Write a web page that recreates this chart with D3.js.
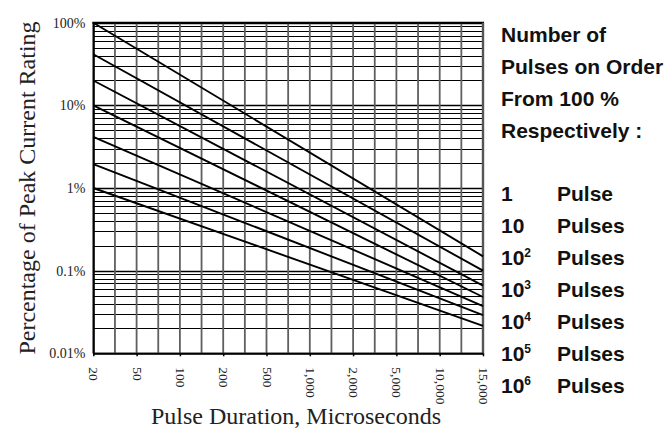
<!DOCTYPE html>
<html>
<head>
<meta charset="utf-8">
<script src="https://cdn.jsdelivr.net/npm/d3@7/dist/d3.min.js"></script>
<style>
  html, body { margin: 0; padding: 0; background: #fff; }
  svg { display: block; }
</style>
</head>
<body>
<svg id="chart" width="671" height="429"></svg>
<script>
// ---- data ----
const durations = ["20", "50", "100", "200", "500", "1,000", "2,000", "5,000", "10,000", "15,000"];
const yTickValues = [100, 10, 1, 0.1, 0.01];
const yTickLabels = ["100%", "10%", "1%", "0.1%", "0.01%"];
// percentage of peak current at 20 µs and at 15,000 µs, one per curve (top to bottom)
const startPercent = [100, 41.5, 20, 10, 4.15, 1.95, 1];
const endPercent = [0.149, 0.1, 0.066, 0.048, 0.0373, 0.0289, 0.0215];
const legendTitle = ["Number of", "Pulses on Order", "From 100 %", "Respectively :"];
const legendBase = ["1", "10", "10", "10", "10", "10", "10"];
const legendExp = ["", "", "2", "3", "4", "5", "6"];
const legendWord = ["Pulse", "Pulses", "Pulses", "Pulses", "Pulses", "Pulses", "Pulses"];

// ---- layout ----
const L = 93.3, R = 483, T = 22.7, B = 353.3;
const svg = d3.select("#chart");
const serif = "'Liberation Serif', 'Times New Roman', serif";
const sans = "'Liberation Sans', Arial, Helvetica, sans-serif";

const x = d3.scalePoint().domain(durations).range([L, R]);
const y = d3.scaleLog().domain([0.01, 100]).range([B, T]);

// horizontal grid: log minor lines
const hLines = [];
for (let e = -2; e < 2; e++) {
  for (let m = 1; m <= 9; m++) hLines.push(m * Math.pow(10, e));
}
hLines.push(100);

const grid = svg.append("g");
grid.selectAll("line.h").data(hLines).join("line")
  .attr("class", "h")
  .attr("x1", L).attr("x2", R)
  .attr("y1", d => Math.round(y(d)) + 0.5)
  .attr("y2", d => Math.round(y(d)) + 0.5)
  .attr("stroke", "#000")
  .attr("stroke-width", d => (Math.abs(Math.log10(d) - Math.round(Math.log10(d))) < 1e-9 ? 1.6 : 1));

// vertical grid: at each label and halfway between
const step = x.step();
const vPos = [];
durations.forEach((d, i) => {
  vPos.push(x(d));
  if (i < durations.length - 1) vPos.push(x(d) + step / 2);
});
grid.selectAll("line.v").data(vPos).join("line")
  .attr("class", "v")
  .attr("x1", d => d).attr("x2", d => d)
  .attr("y1", T).attr("y2", B)
  .attr("stroke", "#5f5f5f")
  .attr("stroke-width", 1.8);

// frame
svg.append("line").attr("x1", L - 1).attr("x2", R + 1).attr("y1", T).attr("y2", T)
  .attr("stroke", "#000").attr("stroke-width", 2);
svg.append("line").attr("x1", R).attr("x2", R).attr("y1", T).attr("y2", B)
  .attr("stroke", "#555").attr("stroke-width", 2.4);

// x axis
const xAxis = d3.axisBottom(x).tickSize(3).tickSizeOuter(0).tickFormat("");
const gx = svg.append("g").attr("transform", `translate(0,${B})`).call(xAxis);
gx.select(".domain").attr("stroke", "#000").attr("stroke-width", 2);
gx.selectAll(".tick line").attr("stroke", "#000").attr("stroke-width", 1.5);
gx.selectAll(".tick").append("text")
  .attr("transform", "translate(0,14) rotate(90)")
  .attr("x", 0).attr("y", 0)
  .attr("dy", "0.33em")
  .attr("text-anchor", "start")
  .attr("fill", "#222")
  .style("font-family", serif)
  .style("font-size", "13.5px")
  .text(d => d);

// y axis
const yAxis = d3.axisLeft(y).tickValues(yTickValues).tickSize(0)
  .tickFormat((d, i) => yTickLabels[i]);
const gy = svg.append("g").attr("transform", `translate(${L},0)`).call(yAxis);
gy.select(".domain").attr("stroke", "#000").attr("stroke-width", 2);
gy.selectAll(".tick text")
  .attr("x", -8)
  .attr("fill", "#222")
  .style("font-family", serif)
  .style("font-size", "14px");

// curves
const line = d3.line().x(d => x(d[0])).y(d => y(d[1]));
const curves = startPercent.map((s, i) => [[durations[0], s], [durations[durations.length - 1], endPercent[i]]]);
svg.append("g").selectAll("path").data(curves).join("path")
  .attr("d", line)
  .attr("fill", "none")
  .attr("stroke", "#000")
  .attr("stroke-width", 1.9);

// axis titles
svg.append("text")
  .attr("transform", `translate(35,${(T + B) / 2}) rotate(-90)`)
  .attr("text-anchor", "middle")
  .attr("fill", "#222")
  .style("font-family", serif)
  .style("font-size", "24px")
  .text("Percentage of Peak Current Rating");

svg.append("text")
  .attr("x", (150 + 442) / 2).attr("y", 424)
  .attr("text-anchor", "middle")
  .attr("fill", "#222")
  .style("font-family", serif)
  .style("font-size", "24px")
  .text("Pulse Duration, Microseconds");

// legend
const lg = svg.append("g").style("font-family", sans).style("font-weight", "bold")
  .style("font-size", "21px").attr("fill", "#111");
lg.selectAll("text.title").data(legendTitle).join("text")
  .attr("class", "title")
  .attr("x", 501).attr("y", (d, i) => 41.5 + i * 32)
  .text(d => d);

const rows = lg.selectAll("g.row").data(legendBase).join("g")
  .attr("class", "row")
  .attr("transform", (d, i) => `translate(0,${200.7 + i * 32.1})`);
const num = rows.append("text").attr("x", 501).attr("y", 0);
num.append("tspan").text(d => d);
num.append("tspan")
  .attr("dy", -8)
  .style("font-size", "12px")
  .text((d, i) => legendExp[i]);
rows.append("text").attr("x", 557).attr("y", 0).text((d, i) => legendWord[i]);
</script>
</body>
</html>
